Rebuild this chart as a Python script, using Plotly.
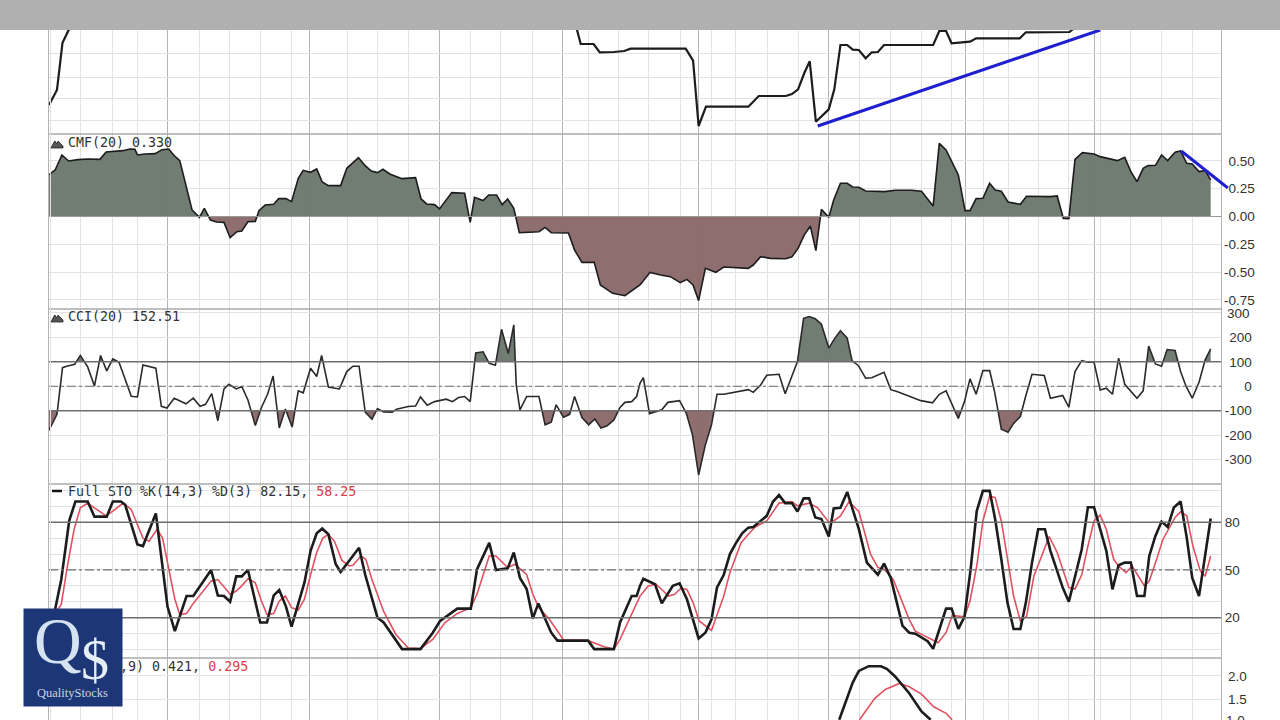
import numpy as np
import plotly.graph_objects as go

# ---------- data (x = session number) ----------
price_bars = [0,1.3,2.2,3.2,3.8,None,85.6,86,86.6,88.7,89.7,92,93.7,94.7,103.7,104.9,105.8,107,113.9,115.6,120,121,122,123,123.9,124.9,127,127.9,128.9,130,130.9,131.9,133,134,135,136,144,145,146.1,147,150,151,158.1,159.1,166.2,167]
price_vals = [29,44,91.3,104,118,None,118,104,90,90,81.7,82,83,85.3,85.3,73.3,8,27.3,27.3,38,38,40,44.7,60.7,72.7,12.3,24.7,44.7,89,89,84.3,84,75.7,81.7,82,89,89,103,103,90.7,92.3,95.7,95.7,101.7,102,106]
price_trend_bars = [125.2,171.2]
price_trend_vals = [8,104]

cmf_bars = [0,1,2.1,3.2,4.7,6.3,8.3,9.3,12,13.2,14,14.4,15.6,17.3,18.4,19.5,20.3,21.3,23.3,24.5,25.3,26.3,27.3,28.5,29.5,30.6,31.4,32.4,33.6,34.2,35.2,36.6,37.4,38.6,39.5,40.6,41.4,42.6,43.6,44.5,45.5,47.5,48.5,50.4,51.5,52.5,53.5,54.4,55.5,57.5,59.7,60.6,61.5,62.8,63.6,65.6,67.7,68.6,69.3,70.7,71.6,72.9,73.8,74.7,75.7,76.6,79.8,80.8,81.8,84.6,85.6,86.8,88.8,89.8,91.8,93.8,96.25,97.9,99.6,101.2,102.8,103.9,104.9,105.8,106.9,108.6,109.9,113.9,114.7,115.9,117.5,120,121,122,123,124,124.9,125.8,127,127.8,128.9,130,130.9,131.9,133,136.1,137.8,140.5,142.1,144,145,146.1,148.1,149.2,150,151,152.1,153.2,154.1,155.1,156.2,158.2,159.2,163.1,164.2,165.2,166.1,167.1,168.3,170.2,171.2,174,175.2,176.2,177.2,178.2,179,180.2,181.2,182.2,183.4,184.3,185.3,186.2,187.3,188.3,189.2]
cmf_vals = [.377,.419,.554,.5,.512,.518,.515,.581,.593,.608,.605,.554,.563,.566,.602,.608,.554,.503,.059,-.008,.074,-.032,-.05,-.053,-.191,-.137,-.131,-.047,-.044,.053,.104,.11,.161,.161,.134,.344,.416,.398,.428,.311,.278,.278,.434,.53,.458,.41,.395,.425,.383,.341,.35,.158,.113,.107,.068,.215,.209,-.053,.173,.143,.194,.194,.107,.158,.074,-.146,-.137,-.098,-.146,-.149,-.302,-.413,-.413,-.617,-.692,-.713,-.617,-.503,-.527,-.542,-.596,-.566,-.617,-.758,-.467,-.503,-.455,-.467,-.437,-.362,-.377,-.38,-.362,-.287,-.167,-.086,-.308,.065,-.008,.149,.299,.299,.266,.263,.23,.224,.236,.236,.227,.095,.659,.599,.374,.053,.053,.161,.164,.299,.239,.227,.131,.11,.182,.179,.185,-.017,-.02,.515,.575,.563,.539,.503,.533,.404,.314,.434,.458,.461,.554,.503,.578,.59,.479,.473,.404,.413,.33]
cmf_trend_bars = [184.4,192]
cmf_trend_vals = [.59,.257]

cci_bars = [0,1.3,2.2,3,4.2,5.1,6.3,7.4,8.4,9.4,10.4,11.4,13.4,14.4,15.3,17.4,18.3,19.2,20.4,22.3,23.5,24.6,25.5,26.5,27.5,28.5,29.3,30.5,31.4,32.4,33.6,34.6,35.6,36.5,37.5,38.5,39.6,40.6,41.4,42.6,43.6,44.4,45.5,47.3,48.5,49.5,50.5,51.5,52.6,53.5,54.5,55.9,56.6,58.5,59.7,60.5,61.6,62.8,64.7,65.7,66.7,67.7,68.6,69.5,70.7,71.7,72.7,73.7,74.8,75.7,76.1,76.7,77.8,79.8,80.8,81.8,82.6,83.8,84.8,85.6,86.8,87.9,88.9,89.9,90.9,92,93,93.8,94.9,95.7,96.25,96.8,97.8,99.8,100.8,102.7,103.8,104.8,105.8,106.9,107.9,108.8,109.9,113.9,114.7,115.9,116.9,118.9,119.9,121,121.9,122.9,123.8,124.8,125.8,127,128,128.9,130,130.8,131.8,133,134,136,137.1,138.1,140.1,142,143.9,145,146.1,148.1,149.1,150,151,152.1,153.2,154,155.1,156.2,157.1,158.2,159.1,160.1,162.1,163.1,165.1,166.1,167.1,168.2,169.2,170.2,171.2,172.2,173.2,174.2,175.2,177.2,178.2,179.1,180.2,181.2,182.1,183.4,184.3,185.2,186.2,187.3,188.3,189.2]
cci_vals = [-180,-115,76,83,90,126,79,1,126,63,112,98,-41,-44,87,74,-82,-89,-49,-72,-49,-82,-74,-30,-141,-11,8,-11,-1,-56,-161,-87,-33,42,-171,-93,-167,-19,-27,74,40,126,-3,-11,60,82,82,-106,-135,-91,-105,-106,-94,-83,-81,-44,-78,-63,-53,-63,-46,-42,-63,136,141,94,86,233,134,251,5,-97,-42,-42,-158,-147,-76,-127,-115,-42,-128,-158,-134,-171,-162,-138,-87,-66,-63,-42,12,35,-112,-96,-66,-59,-111,-199,-363,-240,-158,-33,-33,-14,-25,5,45,49,-31,40,101,278,285,276,254,156,197,227,197,104,85,33,35,57,-14,-22,-42,-59,-68,-33,-19,-132,-63,30,-33,64,64,-22,-176,-188,-152,-124,-38,49,44,-49,-38,-86,60,105,98,98,-15,-8,-33,115,8,-49,-19,164,91,82,150,146,60,-1,-49,16,108,153]

sto_k_bars = [0.1,1,2,3.3,4.3,6.3,7.4,9.4,10.4,11.7,12.4,14.4,15.3,17.4,18.3,19.3,20.5,22.4,23.5,26.4,27.5,28.5,29.5,30.5,31.4,32.4,34.4,35.5,36.6,37.5,38.6,39.5,41.6,42.6,43.6,44.5,45.5,46.7,47.5,50.5,51.5,53.5,54.5,57.5,60.5,62.5,63.7,66.5,68.7,69.7,71.7,72.8,74.7,75.7,76.7,77.8,78.8,79.7,81.8,82.8,87.8,88.8,92,93,94.9,95.7,96.25,96.8,98.7,99.8,101.6,102.7,103.9,105.8,106.9,107.9,108.8,109.9,110.9,111.9,112.9,113.9,114.7,116.9,117.9,118.9,119.9,121,121.9,122.9,123.8,124.8,125.8,127,127.8,128.9,130,131.9,133.2,135,136,137.1,139,140.1,141.1,143.1,144,146.1,147,148.1,149.1,150.1,151.1,152.1,153.2,154.1,155.1,156.1,157.1,158.2,159.1,160.1,161.1,162.2,163.1,165.1,166.1,167.1,168.2,169.2,170.2,171.2,172.2,173.2,174.2,175.2,176.2,177.2,178.4,179.2,180.2,181.2,182.2,183.2,184.3,185.3,186.2,187.3,188.3,189.2]
sto_k_vals = [8.5,26,44,81,93,93,83.5,83.5,93,93,91,66,65,85.5,59,27,11.6,33.6,33.6,50,34,33.6,30,46,46,50,17,17,34,37.4,27,14.4,42,62,73,76,72.4,53.6,48.7,64,47,20,17,0.3,0.3,10.6,18,25.7,25.7,50.4,67,50,51,61,45,38,19.6,29,10.6,5.6,5.6,0.3,0.3,17,33.6,33.6,40,44.5,41,29,40,41.6,31.6,7,10.6,19,39,47,60,67,73,76.6,77,84,92.8,97,92,92,86.7,95,95,83,82,71,88.6,89,99,75.6,54.6,47,54,45,15,10.6,10,5.3,0.5,25.7,25.7,13,20.6,50.4,87,99.7,99.7,81.9,56.7,29.5,12.9,12.9,29.5,54.6,75.6,75.6,62,38.9,30,46,63,89.4,89.4,75.6,62,37.8,53,54.6,54.6,33.6,33.6,58.8,71.4,80.4,77,89.2,93,70.3,45,33.6,58.8,82.3]

sto_d_bars = [1,2,3,4.1,5.1,6.3,7.4,9.3,10.4,12.1,13.4,15.3,16.3,17.6,18.5,19.3,20.5,21.3,22.4,23.5,26.4,27.5,28.5,29.5,30.5,31.4,32.4,33.6,34.6,35.5,36.6,37.5,38.5,39.5,40.6,41.6,42.6,43.6,44.6,45.5,46.5,47.7,48.9,49.5,50.8,51.6,52.6,54.5,56.5,58.5,60.5,62.5,64.5,66.5,68.7,69.7,71.7,72.8,74.7,75.9,77.8,78.8,79.8,81.5,83.8,87.8,90.4,92,93,96.25,97.6,98.9,100.9,101.9,102.9,103.9,104.9,105.9,107.9,109.9,110.9,112.7,113.9,114.9,116.9,118.9,121,121.9,123.8,125.2,127,127.8,128.9,130.3,131.9,133.8,135,136,137.5,140.1,141.1,143.1,144.8,146.1,147.1,149.1,150,151.1,152.1,153.2,154.1,155.1,156.1,157.1,158.2,159.2,160.4,162.9,164.2,166.1,167.1,168.2,169.2,170.2,171.2,172.2,173.4,174.2,175.4,176.4,178.4,179.2,180.4,181.4,183.4,184.3,185.3,186.3,187.5,188.3,189.2]
sto_d_vals = [23,28.4,52.5,75.6,89,92,89,84,87,92,88,70,68,75.6,70,54.6,31.6,22,22.7,29,43,44,39.5,34.7,36.8,40,44.5,42,30.5,22,22.7,30.5,33.6,26.3,24.8,31.6,47,61,70,72.4,68,56,52.5,53,58.8,56.7,44,24,9.5,1,0.7,6.4,17,22.7,26.3,34.7,58.8,58.8,51.5,53.6,47,34.7,26.3,19,6,5.6,1.8,0.3,6.4,33.6,40,41,33.6,34.7,38.5,37.8,29.5,18,12,33.6,48.3,67,72.4,76.6,80.8,92,93,90.3,92,89,80,80.8,84,92.8,86.7,59.9,51.5,50.4,44,19,11.6,7.4,4.3,10.6,21.5,20.6,30.5,52.5,80.8,96.5,95.5,80.8,56.7,33.6,18,20.6,46,71,61,39,38,47,65,80.8,84.4,75.6,56.7,52.5,48.3,52.5,40,43,56.7,69,83,86.5,84,65,49.4,46,58.8]

macd_bars = [128.7,130,130.9,131.9,133.5,135.5,136.5,137.8,140.1,142.1,143.6]
macd_vals = [1.06,1.52,1.86,2.11,2.21,2.21,2.15,1.99,1.63,1.24,1.06]
signal_bars = [132,133.2,134.5,136.2,138.5,140.1,142.1,144.1,146.1,147.1]
signal_vals = [1.06,1.27,1.52,1.71,1.84,1.77,1.61,1.34,1.2,1.06]

week_lines = [5.2,10.4,14.4,24.5,29.4,34.4,39.5,48.6,53.5,58.6,68.7,73.6,78.8,87.8,92.8,97.7,102.8,107.9,111.8,117,122,132,137.1,142.1,147,152.2,156.2,161.1,166.1,171.2,176.2,181.2,186.2]
month_lines = [19.3,42.5,63.6,83.7,105.8,127,149.2,170.2]

cmf_ticks = [-.75,-.5,-.25,0,.25,.5]
cmf_labels = ["-0.75","-0.50","-0.25","0.00","0.25","0.50"]
cci_ticks = [-300,-200,-100,0,100,200,300]
sto_ticks = [20,50,80]
macd_ticks = [1.5,2.0]

# ---------- layout constants ----------
W, H = 1280, 720
L, R = 49/W, 1221/W
def yd(px): return 1 - px/H
DARK, LIGHT, SEP = "#b4b4b4", "#e2e2e2", "#aaaaaa"
GREEN, BROWN = "rgba(108,120,110,0.97)", "rgba(136,102,103,0.95)"
BLACK, RED = "#1c1c1c", "#e0525f"
BLUE = "#1f1fd0"
CMF_DOMAIN, CMF_RANGE = [yd(309), yd(134)], [-.833, .743]

def split(xs, ys, level):
    """add the points where the line crosses a level so a fill ends on it"""
    ox, oy = [xs[0]], [ys[0]]
    for i in range(1, len(xs)):
        if (ys[i-1]-level)*(ys[i]-level) < 0:
            t = (level-ys[i-1])/(ys[i]-ys[i-1])
            ox.append(xs[i-1]+t*(xs[i]-xs[i-1])); oy.append(level)
        ox.append(xs[i]); oy.append(ys[i])
    return np.array(ox), np.array(oy)

fig = go.Figure()

def fill(xs, ys, level, above, color, ya):
    ox, oy = split(xs, ys, level)
    oy = np.maximum(oy, level) if above else np.minimum(oy, level)
    fig.add_trace(go.Scatter(x=ox, y=np.full(len(ox), level), yaxis=ya, mode="lines",
                             line=dict(width=0), hoverinfo="skip", showlegend=False))
    fig.add_trace(go.Scatter(x=ox, y=oy, yaxis=ya, mode="lines", line=dict(width=0),
                             fill="tonexty", fillcolor=color, hoverinfo="skip", showlegend=False))

def line(xs, ys, ya, color=BLACK, width=1.6, xa="x"):
    fig.add_trace(go.Scatter(x=xs, y=ys, xaxis=xa, yaxis=ya, mode="lines", line=dict(color=color, width=width),
                             connectgaps=False, showlegend=False))

line(price_bars, price_vals, "y", width=2.2)
line(price_trend_bars, price_trend_vals, "y", color=BLUE, width=3)

fill(cmf_bars, cmf_vals, 0, True, GREEN, "y2")
fill(cmf_bars, cmf_vals, 0, False, BROWN, "y2")
line(cmf_bars, cmf_vals, "y2", width=1.6)
line(cmf_trend_bars, cmf_trend_vals, "y6", color=BLUE, width=3, xa="x2")

fill(cci_bars, cci_vals, 100, True, GREEN, "y3")
fill(cci_bars, cci_vals, -100, False, BROWN, "y3")
line(cci_bars, cci_vals, "y3", color="#2a2a2a", width=1.6)

line(sto_d_bars, sto_d_vals, "y4", color=RED, width=1.6)
line(sto_k_bars, sto_k_vals, "y4", width=2.6)

line(signal_bars, signal_vals, "y5", color=RED, width=1.6)
line(macd_bars, macd_vals, "y5", width=2.6)

TICKFONT = dict(family="Liberation Sans", size=13.5, color="#333333")
def yaxis(domain, rng, ticks, text=None, minor=None, labelled=True, standoff=-34):
    d = dict(domain=domain, range=rng, anchor="x", side="right", tickmode="array", tickvals=ticks,
             ticktext=text if text else [str(t) for t in ticks], showgrid=True, gridcolor=LIGHT, gridwidth=1,
             zeroline=False, showline=True, mirror=True, linecolor=DARK, linewidth=1,
             ticks="", tickfont=TICKFONT, showticklabels=labelled,
             ticklabelposition="inside", ticklabelstandoff=standoff)
    if minor:
        d["minor"] = dict(tickmode="array", tickvals=minor, showgrid=True, gridcolor=LIGHT, gridwidth=1, ticks="")
    return d

fig.update_layout(
    width=W, height=H, margin=dict(l=0, r=0, t=0, b=0), paper_bgcolor="white", plot_bgcolor="rgba(0,0,0,0)",
    showlegend=False, hovermode=False,
    xaxis=dict(domain=[L, R], range=[0, 190.88], anchor="y5", tickmode="array", tickvals=month_lines,
               showgrid=True, gridcolor=DARK, gridwidth=1, zeroline=False, showticklabels=False, ticks="",
               minor=dict(tickmode="array", tickvals=week_lines, showgrid=True, gridcolor=LIGHT, gridwidth=1, ticks="")),
    # the CMF trend line runs a little past the right-hand rule, so it has its own wider axis pair
    xaxis2=dict(domain=[L, 1232/W], range=[0, 190.88*(1232-49)/(1221-49)], anchor="y6", visible=False),
    yaxis6=dict(domain=CMF_DOMAIN, range=CMF_RANGE, anchor="x2", visible=False),
    yaxis=yaxis([yd(134), yd(30)], [0, 104], [14, 35.7, 56.7, 80.7], labelled=False),
    yaxis2=yaxis(CMF_DOMAIN, CMF_RANGE, cmf_ticks, cmf_labels, standoff=-34),
    yaxis3=yaxis([yd(484), yd(309)], [-400, 316], cci_ticks, standoff=-31),
    yaxis4=yaxis([yd(658), yd(484)], [-5.3, 104], sto_ticks, minor=[0,10,30,40,60,70,90,100], standoff=-19),
    yaxis5=yaxis([0, yd(658)], [1.056, 2.386], macd_ticks, ["1.5", "2.0"], standoff=-26),
)

def hl(ya, y, color=DARK, width=1, dash="solid", x0=0):
    fig.add_shape(type="line", xref="x domain", yref=ya, x0=x0, x1=1, y0=y, y1=y,
                  line=dict(color=color, width=width, dash=dash))

# panel separators
for ya in ["y2", "y3", "y4", "y5"]:
    fig.add_shape(type="line", xref="x domain", yref=ya+" domain", x0=0, x1=1, y0=1, y1=1,
                  line=dict(color=SEP, width=1.5))
hl("y2", 0, color="#999999")
for v in (100, -100):
    hl("y3", v, color="#6e6e6e", width=1.5)
hl("y3", 0, color="#6e6e6e", width=1.2, dash="dashdot")
for v in (80, 20):
    hl("y4", v, color="#6e6e6e", width=1.5)
hl("y4", 50, color="#6e6e6e", width=1.2, dash="dashdot")
# left double rule
fig.add_shape(type="line", xref="paper", yref="paper", x0=50.5/W, x1=50.5/W, y0=0, y1=yd(30),
              line=dict(color=LIGHT, width=1))
# top bar
fig.add_shape(type="rect", xref="paper", yref="paper", x0=0, x1=1, y0=yd(30), y1=1, layer="above",
              line=dict(width=0), fillcolor="#b0b0b0")
# indicator icons
for top in (137, 311):
    xs = np.array([51, 54, 55, 57, 58, 60, 63, 63, 51]) / W
    ys = np.array([148, 142, 141, 144, 141, 143, 146, 148, 148]) - 137 + top
    path = "M" + "L".join(f"{a:.5f},{yd(b):.5f}" for a, b in zip(xs, ys)) + "Z"
    fig.add_shape(type="path", xref="paper", yref="paper", path=path, line=dict(color="#222", width=0.8),
                  fillcolor="#555555", layer="above")
fig.add_shape(type="line", xref="paper", yref="paper", x0=52/W, x1=62/W, y0=yd(491), y1=yd(491), layer="above",
              line=dict(color="#111111", width=2.5))

LAB = dict(family="DejaVu Sans Mono", size=13.3, color="#333333")
def label(x, y, text, anchor="left"):
    fig.add_annotation(xref="paper", yref="paper", x=x/W, y=yd(y), text=text, showarrow=False,
                       xanchor=anchor, yanchor="middle", font=LAB, align="left", borderpad=0)
label(67, 142.5, "CMF(20) 0.330")
label(67, 316.5, "CCI(20) 152.51")
label(67, 491.5, "Full STO %K(14,3) %D(3) 82.15, <span style='color:#d9404e'>58.25</span>")
label(249, 666.5, "MACD(12,26,9) 0.421, <span style='color:#d9404e'>0.295</span>", anchor="right")
# labels the axis would drop because they sit on the panel edge
fig.add_annotation(xref="paper", yref="paper", x=1252/W, y=yd(313), text="300", showarrow=False, xanchor="right",
                   yanchor="middle", font=TICKFONT)
fig.add_annotation(xref="paper", yref="paper", x=1247/W, y=0, text="1.0", showarrow=False, xanchor="right",
                   yanchor="middle", font=TICKFONT)

# logo (annotations so that it sits above the MACD label)
fig.add_annotation(xref="paper", yref="paper", x=23/W, y=yd(608), xanchor="left", yanchor="top", text=" ",
                   width=98, height=97, bgcolor="#1c3676", showarrow=False, borderpad=0)
LOGO = "Liberation Serif"
def logo(x, y, text, size, color):
    fig.add_annotation(xref="paper", yref="paper", x=x/W, y=yd(y), xanchor="center", yanchor="middle", text=text,
                       showarrow=False, font=dict(family=LOGO, size=size, color=color))
logo(58, 640, "Q", 66, "#d5e2f2")
logo(95, 660, "$", 56, "#e6eef8")
logo(72, 693, "QualityStocks", 12.5, "#c5d4e8")

fig.write_html("out.html", config={"displayModeBar": False},
               post_script="document.body.style.margin='0';document.body.style.overflow='hidden';")
